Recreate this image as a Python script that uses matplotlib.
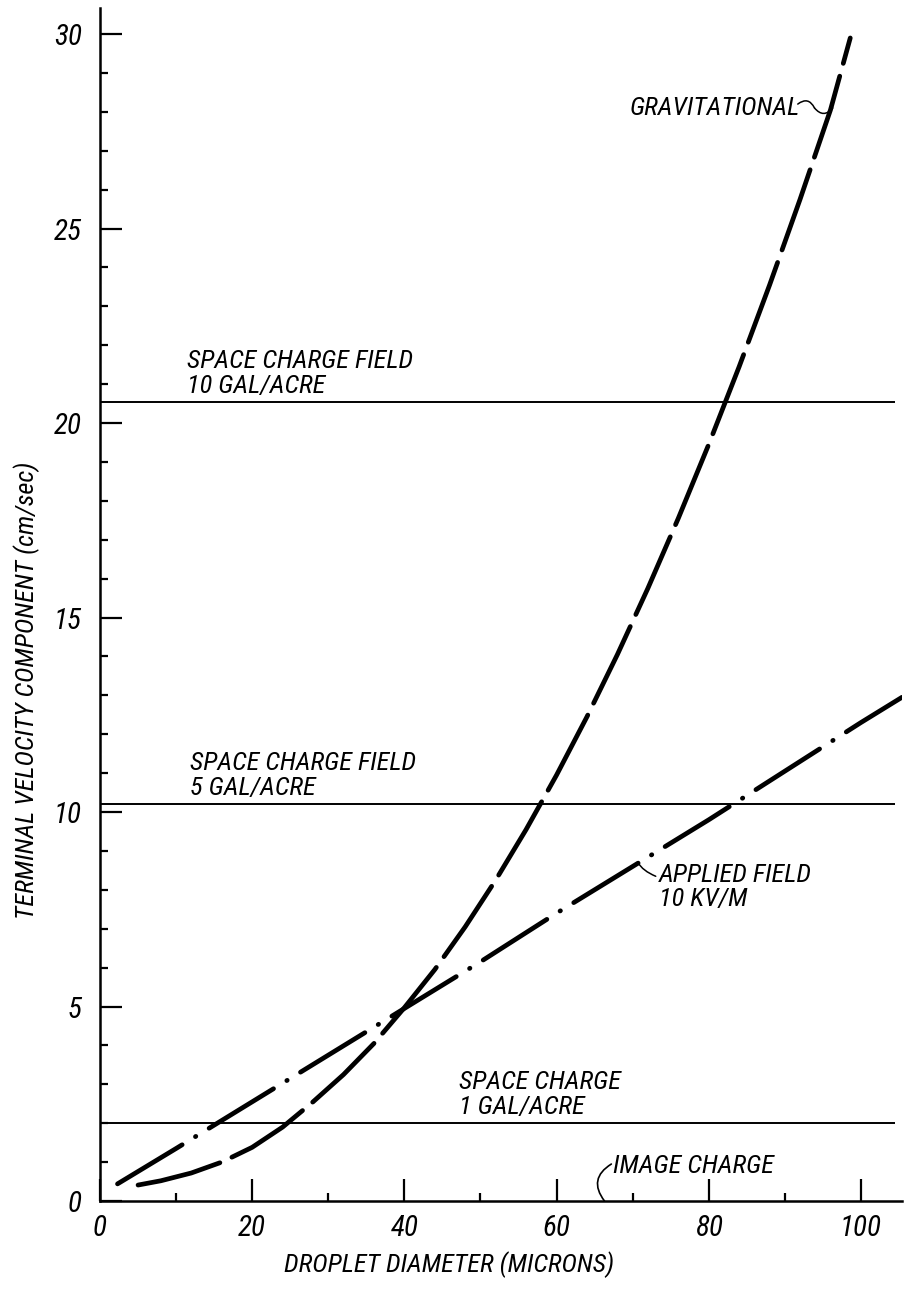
import matplotlib
matplotlib.use("Agg")
import matplotlib.pyplot as plt
from matplotlib import font_manager
from matplotlib.ticker import MultipleLocator

# pick a narrow lettering-like face if there is one
FONT, fs = "DejaVu Sans", 15.5
for name, size in [("Roboto Condensed", 19), ("Liberation Sans Narrow", 18),
                   ("Open Sans Condensed", 17.5), ("DejaVu Sans Condensed", 16.5)]:
    try:
        font_manager.findfont(name, fallback_to_default=False)
        FONT, fs = name, size
        break
    except Exception:
        pass
plt.rcParams["font.family"] = [FONT, "DejaVu Sans"]

# gravitational settling (dashed)
grav_d = [5, 8, 12, 16, 20, 24, 28, 32, 36, 40, 44, 48, 52, 56, 60,
          64, 68, 72, 76, 80, 84, 88, 92, 96, 98.6]
grav_v = [0.41, 0.52, 0.72, 1.0, 1.38, 1.9, 2.55, 3.25, 4.05, 4.97, 5.95,
          7.05, 8.25, 9.55, 10.95, 12.45, 14.05, 15.75, 17.55, 19.45,
          21.45, 23.55, 25.75, 28.05, 29.9]

# applied field 10 kV/m (dash-dot)
appl_d = [2.3, 10, 20, 30, 40, 50, 60, 70, 80, 90, 100, 105.4]
appl_v = [0.44, 1.35, 2.55, 3.75, 4.95, 6.15, 7.4, 8.6, 9.8, 11.05, 12.3, 12.95]

# space charge field levels
sc_levels = [20.55, 10.2, 2.0]
sc_labels = ["SPACE CHARGE FIELD\n10 GAL/ACRE",
             "SPACE CHARGE FIELD\n5 GAL/ACRE",
             "SPACE CHARGE\n1 GAL/ACRE"]
sc_label_x = [11.4, 11.8, 47.2]

fig = plt.figure(figsize=(9.17, 12.89), dpi=100)
ax = fig.add_axes([100 / 917, 88 / 1289, 802 / 917, 1193 / 1289])
ax.set_xlim(0, 105.4)
ax.set_ylim(0, 30.67)

for s in ("top", "right"):
    ax.spines[s].set_visible(False)
for s in ("left", "bottom"):
    ax.spines[s].set_linewidth(1.8)

ax.xaxis.set_major_locator(MultipleLocator(20))
ax.xaxis.set_minor_locator(MultipleLocator(10))
ax.yaxis.set_major_locator(MultipleLocator(5))
ax.yaxis.set_minor_locator(MultipleLocator(1))
ax.tick_params(which="major", direction="in", length=16, width=1.6)
ax.tick_params(which="minor", direction="in", length=6, width=1.6)
ax.tick_params(axis="y", pad=13)
ax.tick_params(axis="x", pad=9)
for lab in ax.get_xticklabels() + ax.get_yticklabels():
    lab.set_fontsize(fs + 2)
    lab.set_style("italic")

ax.hlines(sc_levels, 0, 104.5, color="black", lw=1.4)
for lvl, txt, tx in zip(sc_levels, sc_labels, sc_label_x):
    ax.text(tx, lvl + 0.1, txt, fontsize=fs, style="italic",
            ha="left", va="bottom", linespacing=1.05)

ax.plot(grav_d, grav_v, color="black", lw=3.4, dashes=(18, 2.8),
        dash_capstyle="round", solid_capstyle="round")
ax.plot(appl_d, appl_v, color="black", lw=3.4, dashes=(16, 3.3, 0.1, 3.3),
        dash_capstyle="round")

# labels with small leader lines
ax.text(69.6, 28.1, "GRAVITATIONAL", fontsize=fs, style="italic",
        ha="left", va="center")
ax.annotate("", xy=(93.9, 28.1), xytext=(91.7, 28.2),
            arrowprops=dict(arrowstyle="-", lw=1.1, shrinkA=0, shrinkB=0,
                            connectionstyle="arc3,rad=-0.6"))
ax.annotate("", xy=(96.3, 28.1), xytext=(93.9, 28.1),
            arrowprops=dict(arrowstyle="-", lw=1.1, shrinkA=0, shrinkB=0,
                            connectionstyle="arc3,rad=0.6"))
ax.annotate("APPLIED FIELD\n10 KV/M", xy=(70.7, 8.7), xytext=(73.4, 8.7),
            fontsize=fs, style="italic", ha="left", va="top",
            linespacing=1.0,
            arrowprops=dict(arrowstyle="-", lw=1.1, shrinkA=0, shrinkB=0,
                            connectionstyle="angle3,angleA=0,angleB=-60"))
ax.text(67.4, 0.9, "IMAGE CHARGE", fontsize=fs, style="italic",
        ha="left", va="center")
ax.annotate("", xy=(66.3, 0.0), xytext=(67.2, 0.95),
            arrowprops=dict(arrowstyle="-", lw=1.2, shrinkA=0, shrinkB=0,
                            connectionstyle="arc3,rad=0.55"))

fig.text(449 / 917, 1 - 1265 / 1289, "DROPLET DIAMETER (MICRONS)",
         fontsize=fs, style="italic", ha="center", va="center")
fig.text(27 / 917, 1 - 690 / 1289, "TERMINAL VELOCITY COMPONENT (cm/sec)",
         fontsize=fs, style="italic", ha="center", va="center", rotation=90)

fig.savefig("out.png", dpi=100)
